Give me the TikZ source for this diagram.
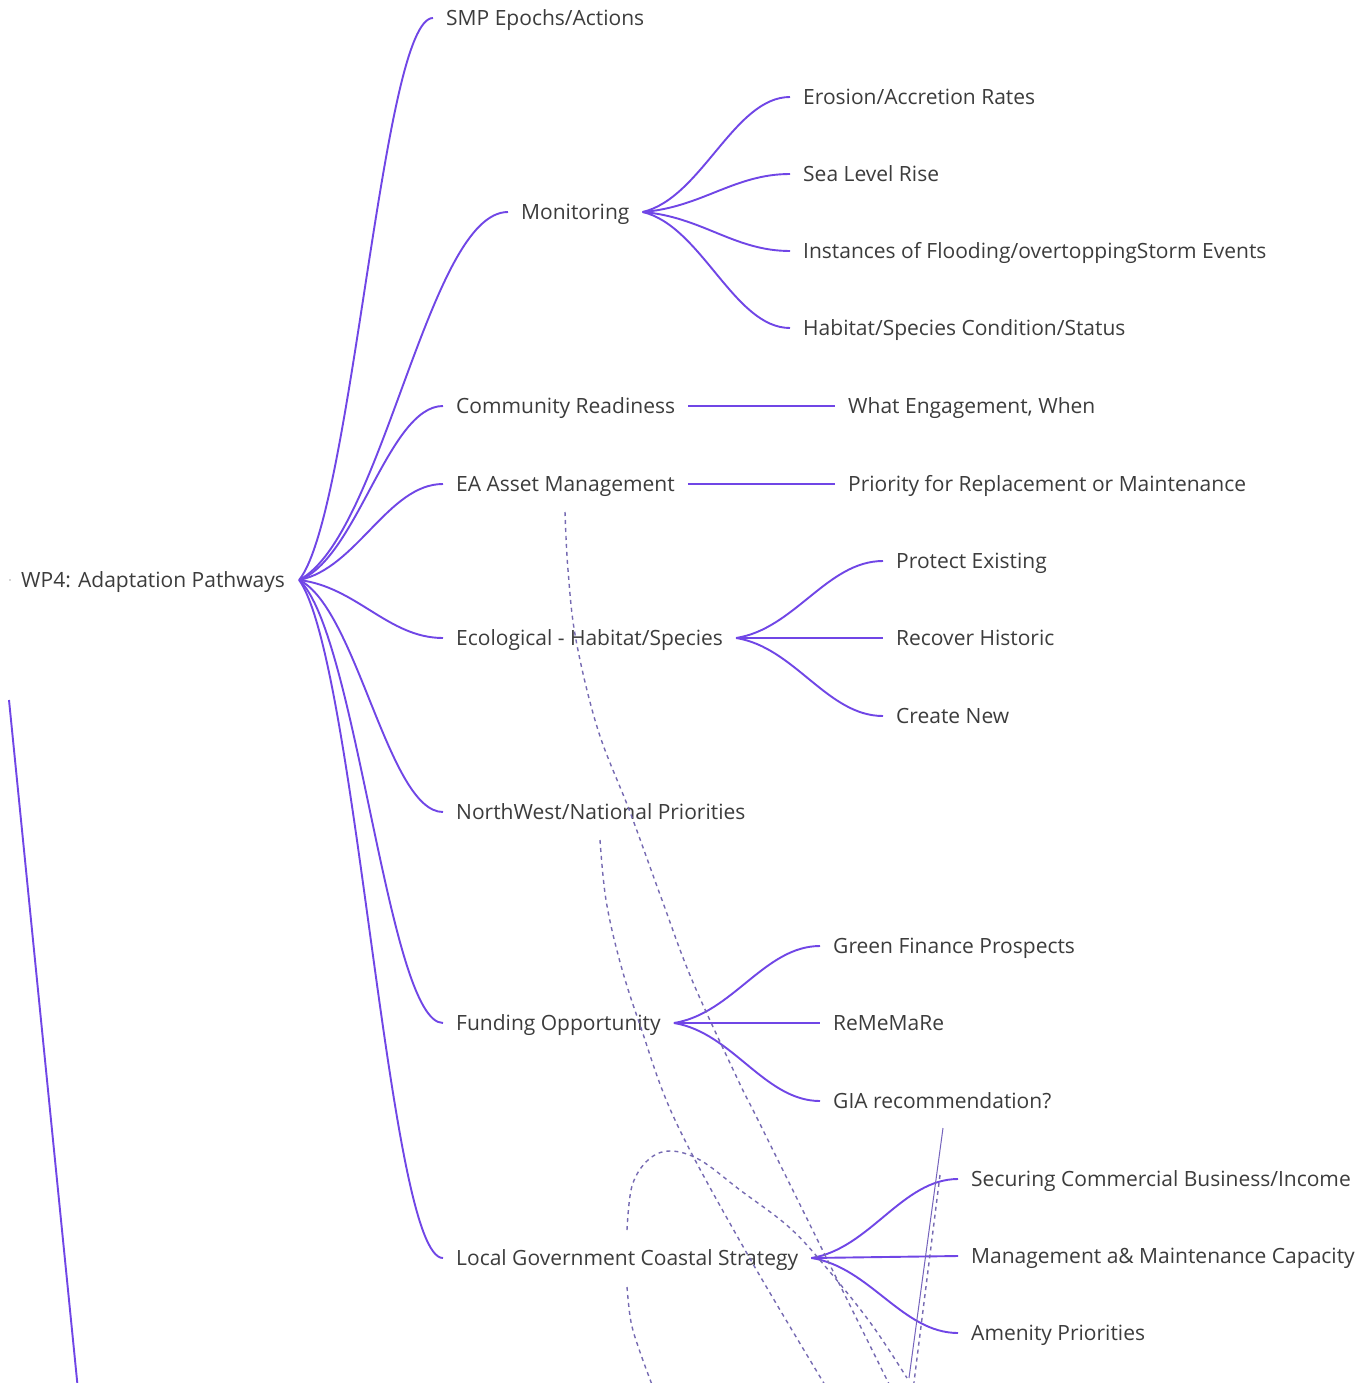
\documentclass[tikz,border=0pt]{standalone}
\usepackage{fontspec}
\setmainfont{Open Sans}
\usetikzlibrary{calc}
\definecolor{lc}{RGB}{112,70,230}
\definecolor{dc}{RGB}{118,106,178}
\definecolor{tc}{RGB}{60,60,60}
\newcommand\conn[2]{\draw[br] let \p1=(#1), \p2=(#2) in (\p1) .. controls ({\x1+0.4*(\x2-\x1)},{\y1+0.12*(\y2-\y1)}) and ({\x2-0.38*(\x2-\x1)},\y2) .. (\p2);}
\begin{document}
\begin{tikzpicture}[x=1pt,y=-1pt,
  lbl/.style={anchor=west,inner xsep=13pt,inner ysep=0pt,text=tc,font=\fontsize{21}{25}\selectfont,text height=15pt,text depth=0pt},
  br/.style={draw=lc,line width=1.9pt},
  dsh/.style={draw=dc,line width=1.4pt,dash pattern=on 4pt off 4pt}]
\useasboundingbox[fill=white] (0,0) rectangle (1371,1383);
\clip (0,0) rectangle (1371,1383);

% nodes
\node[lbl,inner xsep=12pt] (root) at (9,580) {WP4: Adaptation Pathways};
\node[lbl] (smp) at (433,18) {SMP Epochs/Actions};
\node[lbl] (mon) at (508,212) {Monitoring};
\node[lbl] (ero) at (790,97) {Erosion/Accretion Rates};
\node[lbl] (slr) at (790,174) {Sea Level Rise};
\node[lbl] (flo) at (790,251) {Instances of Flooding/overtoppingStorm Events};
\node[lbl] (hab) at (790,328) {Habitat/Species Condition/Status};
\node[lbl] (com) at (443,406) {Community Readiness};
\node[lbl] (eng) at (835,406) {What Engagement, When};
\node[lbl] (eaa) at (443,484) {EA Asset Management};
\node[lbl] (pri) at (835,484) {Priority for Replacement or Maintenance};
\node[lbl] (eco) at (443,638) {Ecological - Habitat/Species};
\node[lbl] (pro) at (883,561) {Protect Existing};
\node[lbl] (rec) at (883,638) {Recover Historic};
\node[lbl] (cre) at (883,716) {Create New};
\node[lbl] (nwn) at (443,812) {NorthWest/National Priorities};
\node[lbl] (fun) at (443,1023) {Funding Opportunity};
\node[lbl] (gfp) at (820,946) {Green Finance Prospects};
\node[lbl] (rem) at (820,1023) {ReMeMaRe};
\node[lbl] (gia) at (820,1101) {GIA recommendation?};
\node[lbl] (lgc) at (443,1258) {Local Government Coastal Strategy};
\node[lbl] (sec) at (958,1179) {Securing Commercial Business/Income};
\node[lbl] (man) at (958,1256) {Management a\& Maintenance Capacity};
\node[lbl] (ame) at (958,1333) {Amenity Priorities};

% hub point
\coordinate (rh) at ([xshift=2pt]root.east);

% root branches
\foreach \c in {smp,mon,com,eaa,eco,nwn,fun,lgc}{\conn{rh}{\c.west}}
% monitoring
\foreach \c in {ero,slr,flo,hab}{\conn{mon.east}{\c.west}}
% straight
\draw[br] (com.east) -- (eng.west);
\draw[br] (eaa.east) -- (pri.west);
% ecological
\conn{eco.east}{pro.west}
\draw[br] (eco.east) -- (rec.west);
\conn{eco.east}{cre.west}
% funding
\conn{fun.east}{gfp.west}
\draw[br] (fun.east) -- (rem.west);
\conn{fun.east}{gia.west}
% local gov
\conn{lgc.east}{sec.west}
\draw[br] (lgc.east) -- (man.west);
\conn{lgc.east}{ame.west}

% stray marks
\fill[gray!60] (10,580) circle (0.8pt);
\coordinate (la) at (9,700);
\coordinate (lb) at (78,1390);
\draw[br] (la) -- (lb);

% dashed curves
\draw[dsh] plot[smooth,tension=0.6] coordinates {(565,512) (568,570) (576,640) (598,730) (630,812) (662,900) (692,980) (738,1080) (758,1120) (820,1245) (892,1390)};
\draw[dsh] plot[smooth,tension=0.6] coordinates {(600,840) (606,900) (620,962) (640,1025) (675,1120) (745,1250) (828,1390)};
\draw[dsh] plot[smooth,tension=0.6] coordinates {(627,1230) (632,1186) (648,1160) (670,1151) (700,1160) (740,1190) (790,1228) (830,1272) (872,1325) (907,1378)};
\draw[dsh] plot[smooth,tension=0.6] coordinates {(627,1287) (631,1322) (640,1352) (654,1390)};
\coordinate (va) at (943,1128);
\coordinate (vb) at (909,1378);
\draw[draw=dc!80!lc,line width=1pt] (va) -- (vb);
\coordinate (vc) at (940,1175);
\coordinate (vd) at (913,1390);
\draw[dsh] (vc) -- (vd);
\end{tikzpicture}
\end{document}
